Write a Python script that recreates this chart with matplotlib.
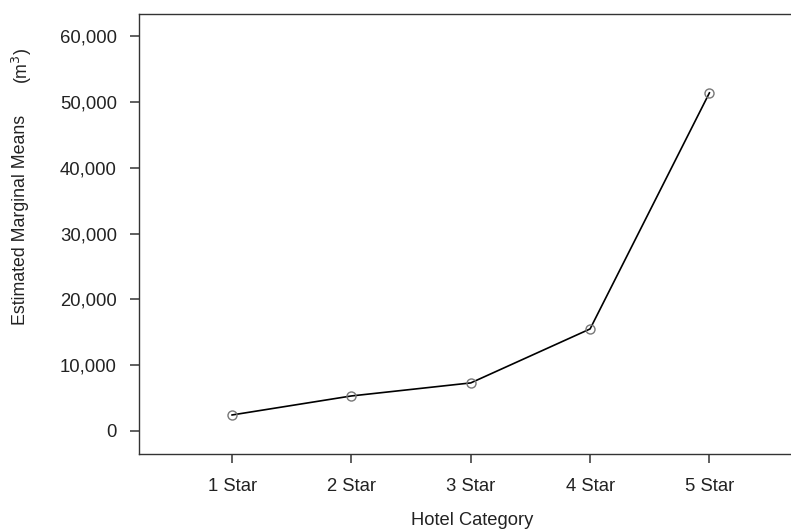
import matplotlib
matplotlib.use("Agg")
import matplotlib.pyplot as plt

categories = ["1 Star", "2 Star", "3 Star", "4 Star", "5 Star"]
means = [2430, 5320, 7300, 15500, 51370]
yticks = [0, 10000, 20000, 30000, 40000, 50000, 60000]

plt.rcParams['font.family'] = ['Liberation Sans', 'DejaVu Sans']

W, H = 791, 530
fig = plt.figure(figsize=(W / 100, H / 100), dpi=100)
ax = fig.add_axes([139 / W, 1 - 454 / H, 1 - 139 / W + 0.01, (454 - 14) / H])

x = list(range(1, len(categories) + 1))
ax.plot(x, means, color='black', linewidth=1.2, marker='o', markersize=6.5,
        markerfacecolor='none', markeredgecolor='#777777', markeredgewidth=1.0)

ax.set_xlim(0.22, 5.75)
ax.set_ylim(-3500, 63350)
ax.set_xticks(x)
ax.set_xticklabels(categories)
ax.set_yticks(yticks)
ax.set_yticklabels([f"{v:,}" for v in yticks])

for s in ['left', 'bottom', 'top']:
    ax.spines[s].set_color('#333333')
    ax.spines[s].set_linewidth(1.0)
ax.spines['right'].set_visible(False)

ax.tick_params(axis='both', length=6.5, width=1.2, color='#444444',
               labelsize=13.3, labelcolor='#222222')
ax.tick_params(axis='y', pad=9.5)
ax.tick_params(axis='x', pad=10.5)

ax.set_xlabel("Hotel Category", fontsize=13.2, color='#222222')
ax.xaxis.set_label_coords((472 - 139) / (W - 139 + 0.01 * W), -58 / 440)

fig.text(21 / W, 1 - 220 / H, "Estimated Marginal Means", rotation=90,
         ha='center', va='center', fontsize=12.8, color='#222222')
fig.text(22 / W, 1 - 66 / H, "(m$^3$)", rotation=90,
         ha='center', va='center', fontsize=12.8, color='#222222')

fig.savefig("out.png", dpi=100)
